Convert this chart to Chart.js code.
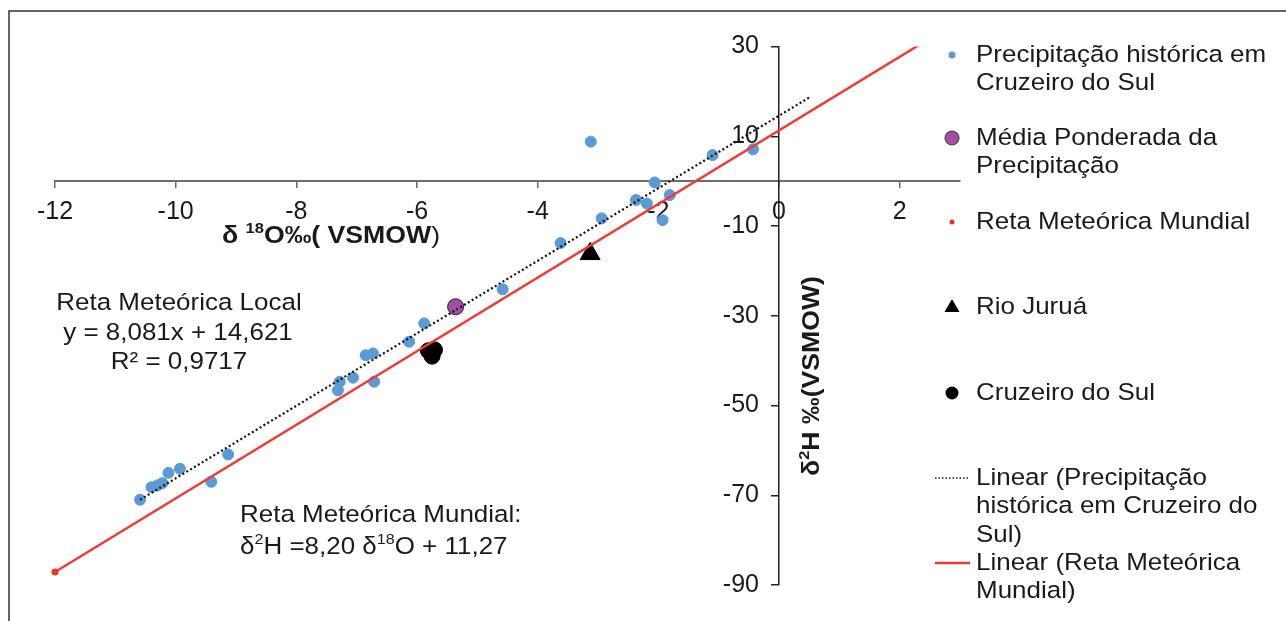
<!DOCTYPE html>
<html>
<head>
<meta charset="utf-8">
<script src="https://cdn.jsdelivr.net/npm/chart.js@4/dist/chart.umd.min.js"></script>
<style>
  html, body { margin: 0; padding: 0; background: #fff; }
  #wrap { position: relative; width: 1286px; height: 621px; }
</style>
</head>
<body>
<div id="wrap"><canvas id="isoChart" width="1286" height="621"></canvas></div>
<script>
// --- DADOS ---
const precipX = [-10.59, -10.40, -10.30, -10.22, -10.12, -9.93, -9.41, -9.13,
                 -7.31, -7.28, -7.06, -6.71, -6.85, -6.73, -6.13, -5.88,
                 -4.58, -3.62, -3.12, -2.94, -2.37, -2.19, -2.06, -1.93, -1.81, -1.10, -0.43];
const precipY = [-71.0, -68.2, -67.8, -67.3, -65.0, -64.1, -67.0, -60.9,
                 -46.6, -44.7, -43.8, -44.7, -38.8, -38.4, -35.8, -31.7,
                 -24.1, -13.8, 8.8, -8.3, -4.2, -5.0, -0.3, -8.7, -3.1, 5.8, 7.1];
const mediaX = [-5.36];
const mediaY = [-28.0];
const mundialX = [-12.0, 3.0];
const mundialY = [-87.1, 35.9];
const juruaX = [-3.13];
const juruaY = [-16.2];
const cruzeiroX = [-5.81, -5.71, -5.75];
const cruzeiroY = [-37.8, -37.6, -39.0];
const localX = [-10.59, 0.51];
const localY = [-71.0, 18.7];
const xTicks = [-12, -10, -8, -6, -4, -2, 0, 2];
const yTicks = [-90, -70, -50, -30, -10, 10, 30];

const FONT = "'Liberation Sans', Arial, sans-serif";
const FS = 24.5;
const INK = '#1a1a1a';

const pts = (xs, ys) => xs.map((x, i) => ({ x, y: ys[i] }));

// --- TEXTO COM SOBRESCRITO (sx = esticar na horizontal) ---
function setFont(ctx, p, fs) {
    ctx.font = (p.b ? 'bold ' : '') + (p.sup ? fs * 0.62 : fs) + 'px ' + FONT;
}
function drawRich(ctx, parts, x, y, fs, align, sx) {
    sx = sx || 1;
    let w = 0;
    parts.forEach(p => { setFont(ctx, p, fs); w += ctx.measureText(p.t).width; });
    let cx = align === 'center' ? -w / 2 : align === 'right' ? -w : 0;
    ctx.save();
    ctx.translate(x, y);
    ctx.scale(sx, 1);
    ctx.textAlign = 'left';
    ctx.textBaseline = 'middle';
    parts.forEach(p => {
        setFont(ctx, p, fs);
        ctx.fillText(p.t, cx, p.sup ? -fs * 0.3 : 0);
        cx += ctx.measureText(p.t).width;
    });
    ctx.restore();
}

const decor = {
    id: 'decor',
    beforeDraw(chart) {
        const ctx = chart.ctx;
        ctx.save();
        ctx.fillStyle = '#fff';
        ctx.fillRect(0, 0, chart.width, chart.height);
        ctx.strokeStyle = '#333';
        ctx.lineWidth = 1.5;
        ctx.beginPath();
        ctx.moveTo(9, 621);
        ctx.lineTo(9, 11);
        ctx.lineTo(1286, 11);
        ctx.stroke();
        ctx.restore();
    },
    afterDraw(chart) {
        const ctx = chart.ctx;
        const ys = chart.scales.y, xs = chart.scales.x;
        ctx.save();
        ctx.fillStyle = INK;

        // rótulos do eixo y (à esquerda do eixo que cruza em x = 0)
        const axisX = xs.getPixelForValue(0);
        yTicks.forEach(v => drawRich(ctx, [{ t: String(v) }], axisX - 20, ys.getPixelForValue(v), 25, 'right'));

        // títulos dos eixos
        drawRich(ctx, [{ t: 'δ ', b: 1 }, { t: '18', b: 1, sup: 1 }, { t: 'O‰( VSMOW', b: 1 }, { t: ')' }], 331, 236, 24, 'center', 1.11);
        ctx.save();
        ctx.translate(812, 376);
        ctx.rotate(-Math.PI / 2);
        drawRich(ctx, [{ t: 'δ', b: 1 }, { t: '2', b: 1, sup: 1 }, { t: 'H ‰(VSMOW)', b: 1 }], 0, 0, 24, 'center', 1.11);
        ctx.restore();

        // anotações
        const S = 1.06;
        drawRich(ctx, [{ t: 'Reta Meteórica Local' }], 179, 303, FS, 'center', S);
        drawRich(ctx, [{ t: 'y = 8,081x + 14,621' }], 178, 333, FS, 'center', S);
        drawRich(ctx, [{ t: 'R² = 0,9717' }], 179, 362, FS, 'center', S);
        drawRich(ctx, [{ t: 'Reta Meteórica Mundial:' }], 240, 515, FS, 'left', S);
        drawRich(ctx, [{ t: 'δ' }, { t: '2', sup: 1 }, { t: 'H =8,20 δ' }, { t: '18', sup: 1 }, { t: 'O + 11,27' }], 240, 547, FS, 'left', S);

        // legenda
        const lx = 976, mx = 952;
        const leg = [
            { lines: ['Precipitação histórica em', 'Cruzeiro do Sul'], y: 55, mark: 'dot', r: 3.5, c: '#5b9bd5' },
            { lines: ['Média Ponderada da', 'Precipitação'], y: 138, mark: 'dot', r: 7, c: '#a34fa8', stroke: '#333' },
            { lines: ['Reta Meteórica Mundial'], y: 222, mark: 'dot', r: 2.5, c: '#e8332c' },
            { lines: ['Rio Juruá'], y: 307, mark: 'tri', c: '#000' },
            { lines: ['Cruzeiro do Sul'], y: 393, mark: 'dot', r: 6.5, c: '#000' },
            { lines: ['Linear (Precipitação', 'histórica em Cruzeiro do', 'Sul)'], y: 478, mark: 'dash', c: '#222' },
            { lines: ['Linear (Reta Meteórica', 'Mundial)'], y: 563, mark: 'line', c: '#ef3b36' }
        ];
        leg.forEach(it => {
            ctx.fillStyle = it.c;
            ctx.strokeStyle = it.c;
            if (it.mark === 'dot') {
                ctx.beginPath();
                ctx.arc(mx, it.y, it.r, 0, Math.PI * 2);
                ctx.fill();
                if (it.stroke) { ctx.lineWidth = 1; ctx.strokeStyle = it.stroke; ctx.stroke(); }
            } else if (it.mark === 'tri') {
                ctx.beginPath();
                ctx.moveTo(mx, it.y - 8);
                ctx.lineTo(mx + 7.5, it.y + 5);
                ctx.lineTo(mx - 7.5, it.y + 5);
                ctx.closePath();
                ctx.fill();
            } else {
                ctx.lineWidth = it.mark === 'dash' ? 1.5 : 2.5;
                ctx.setLineDash(it.mark === 'dash' ? [1.5, 2] : []);
                ctx.beginPath();
                ctx.moveTo(935, it.y);
                ctx.lineTo(970, it.y);
                ctx.stroke();
                ctx.setLineDash([]);
            }
            ctx.fillStyle = INK;
            it.lines.forEach((t, i) => drawRich(ctx, [{ t }], lx, it.y + i * 28.5, FS, 'left', S));
        });
        ctx.restore();
    }
};

// --- GRÁFICO ---
function initChart() {
    const ctx = document.getElementById('isoChart').getContext('2d');
    new Chart(ctx, {
        type: 'scatter',
        data: {
            datasets: [
                { label: 'Linear (Precipitação histórica em Cruzeiro do Sul)', data: pts(localX, localY),
                  showLine: true, borderColor: '#111', borderWidth: 2.2, borderDash: [2, 2.5], pointRadius: 0, order: 0 },
                { label: 'Reta Meteórica Mundial', data: pts(mundialX, mundialY), showLine: true,
                  clip: { left: 8, bottom: 8, top: 0, right: 0 },
                  borderColor: '#ef3b36', borderWidth: 2.5, backgroundColor: '#e8332c', pointBorderWidth: 0, pointRadius: 3.5, order: 1 },
                { label: 'Média Ponderada da Precipitação', data: pts(mediaX, mediaY),
                  backgroundColor: '#a34fa8', borderColor: '#222', borderWidth: 1, pointRadius: 8, order: 2 },
                { label: 'Rio Juruá', data: pts(juruaX, juruaY), pointStyle: 'triangle',
                  backgroundColor: '#000', borderColor: '#000', pointRadius: 11.5, order: 3 },
                { label: 'Cruzeiro do Sul', data: pts(cruzeiroX, cruzeiroY),
                  backgroundColor: '#000', borderColor: '#000', pointRadius: 8, order: 4 },
                { label: 'Precipitação histórica em Cruzeiro do Sul', data: pts(precipX, precipY),
                  backgroundColor: '#5b9bd5', borderColor: '#5b9bd5', pointRadius: 5.5, order: 5 }
            ]
        },
        options: {
            responsive: false,
            animation: false,
            layout: { padding: { left: 55, right: 326, top: 46.5, bottom: 36 } },
            plugins: { legend: { display: false }, tooltip: { enabled: false } },
            scales: {
                x: {
                    type: 'linear', min: -12, max: 3,
                    position: { y: 0 },
                    afterBuildTicks: s => { s.ticks = xTicks.map(v => ({ value: v })); },
                    grid: { drawOnChartArea: false, tickLength: 6, color: '#6d6d6d', lineWidth: 1.5 },
                    border: { display: true, color: '#6d6d6d', width: 2 },
                    ticks: { color: INK, padding: 10, font: { family: FONT, size: 25 }, maxRotation: 0 }
                },
                y: {
                    type: 'linear', min: -90, max: 30,
                    position: { x: 0 },
                    afterBuildTicks: s => { s.ticks = yTicks.map(v => ({ value: v })); },
                    grid: { drawOnChartArea: false, drawTicks: true, tickLength: 7, color: '#222', lineWidth: 1.5 },
                    border: { display: true, color: '#222', width: 1.5 },
                    ticks: { display: false }
                }
            }
        },
        plugins: [decor]
    });
}

window.addEventListener('DOMContentLoaded', initChart);
</script>
</body>
</html>
